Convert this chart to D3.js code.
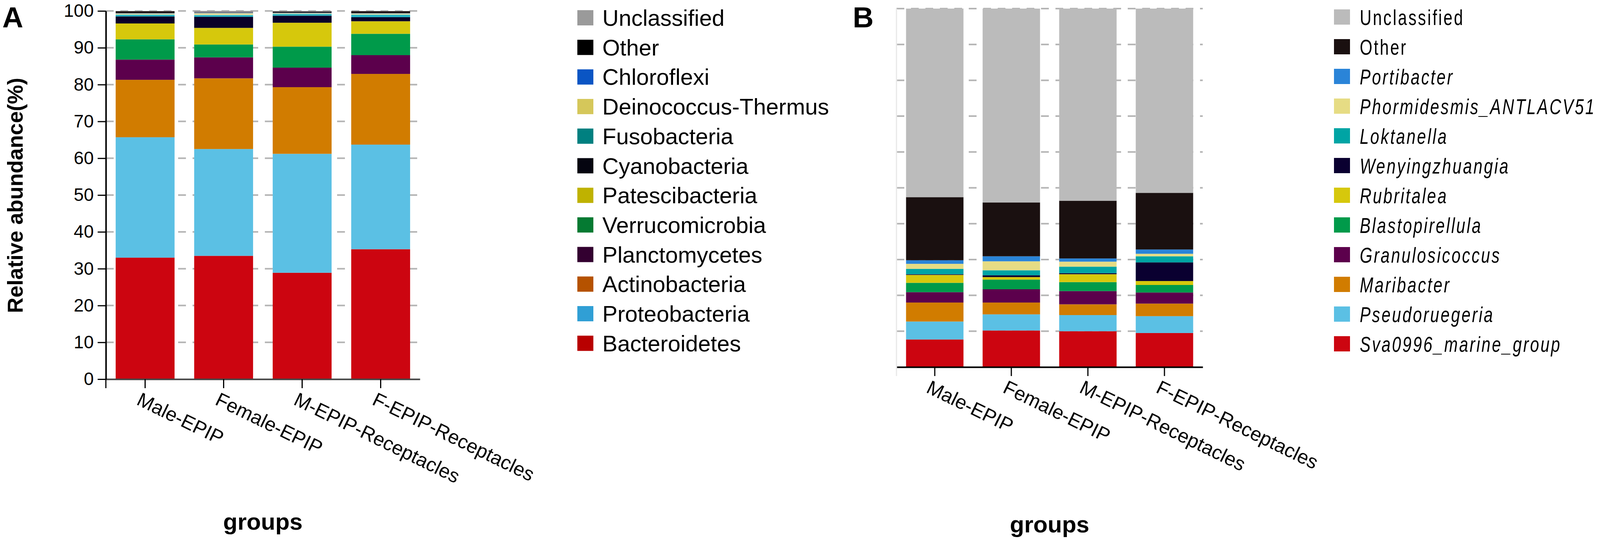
<!DOCTYPE html>
<html>
<head>
<meta charset="utf-8">
<script src="https://cdn.jsdelivr.net/npm/d3@7"></script>
<style>
  body { margin: 0; background: #fff; }
  svg text { font-family: "Liberation Sans", Arial, sans-serif; }
</style>
</head>
<body>
<script>
// groups on the x axis, same in both panels
let groups = ["Male-EPIP", "Female-EPIP", "M-EPIP-Receptacles", "F-EPIP-Receptacles"];

// Panel A: phyla, listed from the bottom of each stack upward
let phyla = ["Bacteroidetes", "Proteobacteria", "Actinobacteria", "Planctomycetes",
  "Verrucomicrobia", "Patescibacteria", "Cyanobacteria", "Fusobacteria",
  "Deinococcus-Thermus", "Chloroflexi", "Other", "Unclassified"];
let phylaMale    = [33.0, 32.7, 15.6, 5.5, 5.5, 4.3, 1.9, 0.5, 0.3, 0.1, 0.5, 0.1];
let phylaFemale  = [33.5, 29.0, 19.2, 5.7, 3.5, 4.5, 3.0, 0.5, 0.5, 0.1, 0.1, 0.4];
let phylaMRecept = [28.9, 32.3, 18.1, 5.3, 5.7, 6.5, 1.9, 0.5, 0.2, 0.1, 0.3, 0.2];
let phylaFRecept = [35.3, 28.4, 19.2, 5.1, 5.8, 3.4, 1.1, 0.7, 0.3, 0.1, 0.5, 0.1];

// Panel B: genera, listed from the bottom of each stack upward
let genera = ["Sva0996_marine_group", "Pseudoruegeria", "Maribacter", "Granulosicoccus",
  "Blastopirellula", "Rubritalea", "Wenyingzhuangia", "Loktanella",
  "Phormidesmis_ANTLACV51", "Portibacter", "Other", "Unclassified"];
let generaMale    = [7.7, 5.0, 5.3, 2.9, 2.6, 2.2, 0.2, 1.5, 1.4, 1.0, 17.6, 52.6];
let generaFemale  = [10.2, 4.5, 3.3, 3.7, 2.7, 0.7, 0.5, 1.4, 2.5, 1.4, 15.0, 54.1];
let generaMRecept = [10.0, 4.5, 3.0, 3.7, 2.5, 2.2, 0.3, 1.8, 1.4, 0.9, 16.1, 53.6];
let generaFRecept = [9.5, 4.7, 3.5, 3.1, 2.1, 1.1, 5.2, 1.7, 0.7, 1.2, 15.8, 51.4];

let yTicks = [0, 10, 20, 30, 40, 50, 60, 70, 80, 90, 100];

// colours (bars in A use brighter shades than the legend swatches)
let phylaBarColors = ["#cc0510", "#5bc0e4", "#d17c00", "#5c004c", "#009a4a", "#d6c80c",
  "#0a0028", "#26b3c4", "#e8de9a", "#2a7fd4", "#1c1010", "#8f8f95"];
let phylaKeyColors = ["#b80000", "#309fd5", "#b55200", "#330030", "#057a32", "#bfb200",
  "#050510", "#008080", "#d5c75a", "#0a55c4", "#000000", "#9a9a9a"];
let generaColors = ["#cc0510", "#5bc0e4", "#d17c00", "#5c004c", "#009a4a", "#d6c80c",
  "#0a0030", "#00a4a4", "#e6dc84", "#2a84d8", "#1a1010", "#bbbbbb"];

let svg = d3.select("body").append("svg")
  .attr("width", 4328)
  .attr("height", 1384);

function buildRows(keys, series) {
  // one row per group, keyed by taxon
  return groups.map((g, i) => {
    let row = {group: g};
    keys.forEach((k, j) => row[k] = series[i][j]);
    return row;
  });
}

function drawPanel(p) {
  let g = svg.append("g");
  let x = d3.scaleBand().domain(groups)
    .range([p.left, p.right]).paddingInner(0.25).paddingOuter(0.125);
  let y = d3.scaleLinear().domain([0, 100]).range([p.bottom, p.top]);

  // dashed grid lines behind the bars
  g.append("g").selectAll("line")
    .data(yTicks.filter(t => t > 0))
    .enter().append("line")
    .attr("x1", p.left).attr("x2", p.right)
    .attr("y1", d => y(d)).attr("y2", d => y(d))
    .style("stroke", "#b4b4b4")
    .style("stroke-width", 4)
    .style("stroke-dasharray", "20 17");

  let stacked = d3.stack().keys(p.keys)(buildRows(p.keys, p.series));
  g.append("g").selectAll("g")
    .data(stacked)
    .enter().append("g")
    .style("fill", (d, i) => p.barColors[i])
    .selectAll("rect")
    .data(d => d)
    .enter().append("rect")
    .attr("x", d => x(d.data.group))
    .attr("width", x.bandwidth())
    .attr("y", d => y(d[1]))
    .attr("height", d => y(d[0]) - y(d[1]));

  // x axis
  let xAxis = g.append("g")
    .attr("transform", `translate(0,${p.bottom})`)
    .call(d3.axisBottom(x).tickSize(23).tickSizeOuter(0));
  xAxis.select(".domain").style("stroke", p.xAxisColor).style("stroke-width", 4);
  xAxis.selectAll(".tick line").style("stroke", "#000").style("stroke-width", 3);
  xAxis.selectAll(".tick text")
    .attr("x", 6).attr("y", 68).attr("dy", null)
    .attr("transform", "rotate(26)")
    .style("text-anchor", "start")
    .style("font-size", "50px")
    .style("fill", "#000");

  // x title
  g.append("text")
    .attr("x", (p.left + p.right) / 2)
    .attr("y", p.titleY)
    .style("text-anchor", "middle")
    .style("font-weight", "bold")
    .style("font-size", "60px")
    .text("groups");

  // panel letter
  g.append("text")
    .attr("x", p.letterX).attr("y", 70)
    .style("font-weight", "bold")
    .style("font-size", "74px")
    .text(p.letter);

  // legend, top of the stack first
  let legend = g.append("g");
  let items = p.keys.map((k, i) => ({name: k, color: p.keyColors[i]})).reverse();
  let rows = legend.selectAll("g")
    .data(items)
    .enter().append("g")
    .attr("transform", (d, i) => `translate(${p.legendX},${p.legendY + i * p.legendStep})`);
  rows.append("rect")
    .attr("width", 41).attr("height", 39)
    .style("fill", d => d.color);
  rows.append("text")
    .attr("transform", `translate(${p.legendTextDx},40) scale(${p.legendSqueeze},1)`)
    .style("font-size", p.legendFont)
    .style("letter-spacing", p.legendSpacing)
    .style("font-style", d => p.italic && d.name != "Other" && d.name != "Unclassified" ? "italic" : "normal")
    .text(d => d.name);

  return {g, x, y};
}

// Panel A
let a = drawPanel({
  letter: "A", letterX: 6,
  keys: phyla,
  series: [phylaMale, phylaFemale, phylaMRecept, phylaFRecept],
  barColors: phylaBarColors, keyColors: phylaKeyColors,
  left: 271, right: 1075, top: 28, bottom: 970,
  xAxisColor: "#444", titleY: 1355,
  legendX: 1478, legendY: 26, legendStep: 75.7, legendTextDx: 64,
  legendFont: "58px", legendSpacing: "0px", legendSqueeze: 1, italic: false
});

let yAxisA = a.g.append("g")
  .attr("transform", "translate(271,0)")
  .call(d3.axisLeft(a.y).tickValues(yTicks).tickSize(21).tickSizeOuter(0).tickPadding(10));
yAxisA.select(".domain").style("stroke", "#000").style("stroke-width", 4);
yAxisA.selectAll(".tick line").style("stroke", "#000").style("stroke-width", 3);
yAxisA.selectAll(".tick text").style("font-size", "46px").style("fill", "#000");
// y axis runs a little below the x axis
a.g.append("line")
  .attr("x1", 271).attr("x2", 271).attr("y1", 970).attr("y2", 993)
  .style("stroke", "#000").style("stroke-width", 3);

a.g.append("text")
  .attr("transform", "translate(58,500) rotate(-90)")
  .style("text-anchor", "middle")
  .style("font-weight", "bold")
  .style("font-size", "55px")
  .text("Relative abundance(%)");

// Panel B
let b = drawPanel({
  letter: "B", letterX: 2183,
  keys: genera,
  series: [generaMale, generaFemale, generaMRecept, generaFRecept],
  barColors: generaColors, keyColors: generaColors,
  left: 2295, right: 3079, top: 22, bottom: 939,
  xAxisColor: "#000", titleY: 1362,
  legendX: 3415, legendY: 24, legendStep: 76, legendTextDx: 66,
  legendFont: "56px", legendSpacing: "5px", legendSqueeze: 0.74, italic: true
});
// faint y axis line in panel B
b.g.append("line")
  .attr("x1", 2295).attr("x2", 2295).attr("y1", 22).attr("y2", 962)
  .style("stroke", "#e8e8e8").style("stroke-width", 3);
</script>
</body>
</html>
